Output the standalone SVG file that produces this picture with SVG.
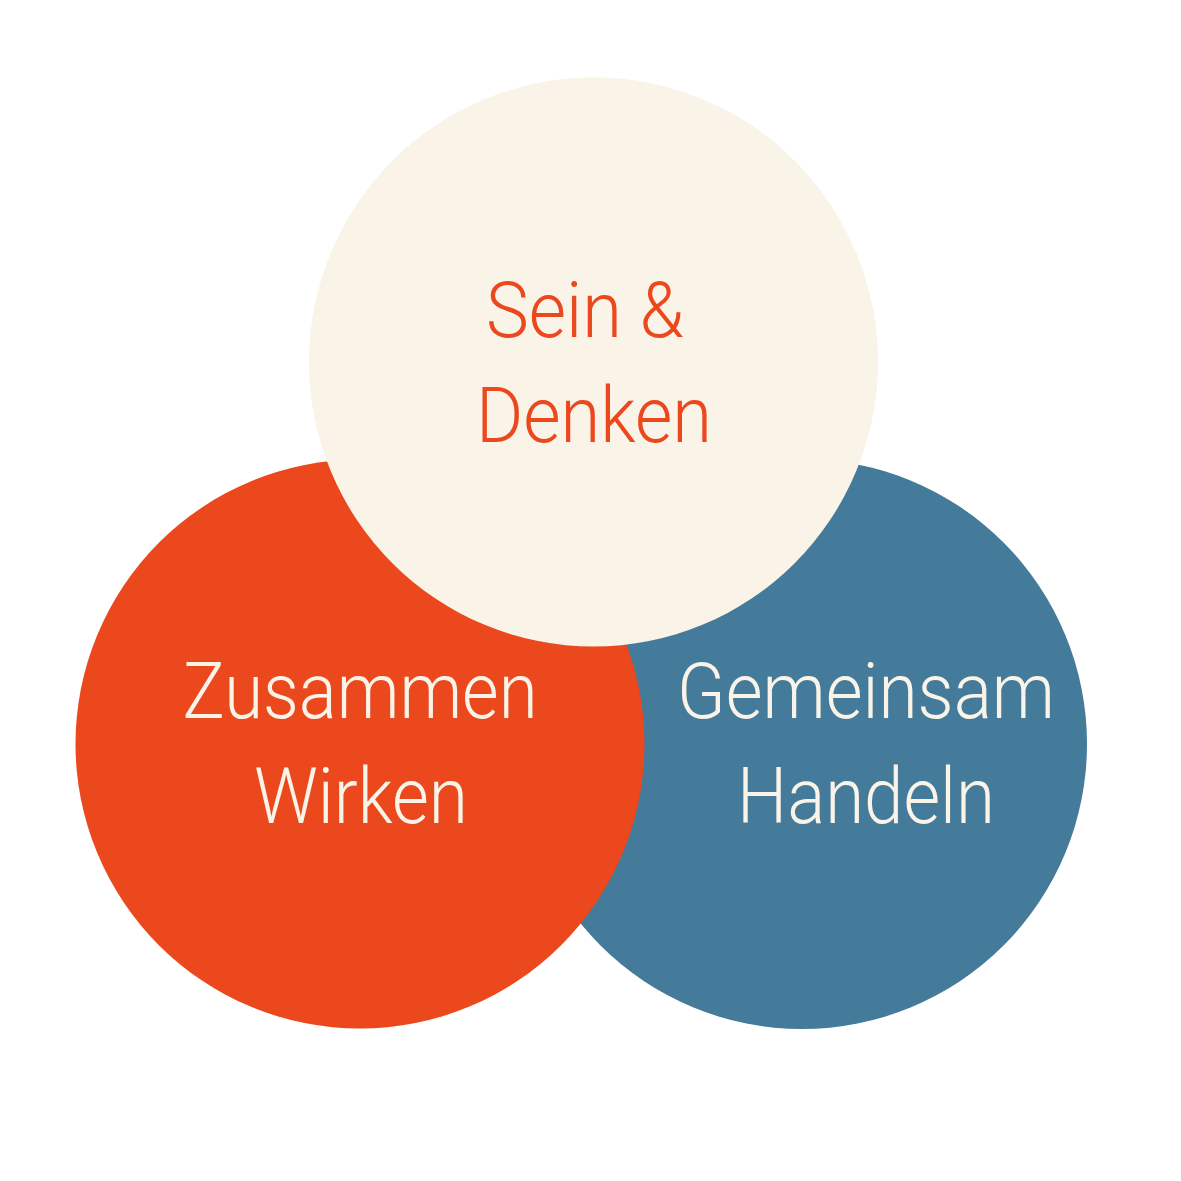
<svg xmlns="http://www.w3.org/2000/svg" width="1181" height="1181" viewBox="0 0 1181 1181">
<style>
.lbl{font-family:Roboto,"Liberation Sans",sans-serif;font-weight:300;font-size:78px;text-anchor:middle}
.light{fill:#F9F3E8}
.red{fill:#EB481E}
</style>
<rect width="1181" height="1181" fill="#FFFFFF"/>
<g id="node-gemeinsam">
<circle cx="802" cy="744" r="285" fill="#447A9A"/>
<text class="lbl light" x="866" y="718" textLength="378" lengthAdjust="spacingAndGlyphs">Gemeinsam</text>
<text class="lbl light" x="866" y="823" textLength="258" lengthAdjust="spacingAndGlyphs">Handeln</text>
</g>
<g id="node-zusammen">
<circle cx="360" cy="744" r="284.5" fill="#EB481E"/>
<text class="lbl light" x="360" y="718" textLength="355" lengthAdjust="spacingAndGlyphs">Zusammen</text>
<text class="lbl light" x="361" y="823" textLength="214" lengthAdjust="spacingAndGlyphs">Wirken</text>
</g>
<g id="node-sein">
<circle cx="593.5" cy="362" r="284.5" fill="#F9F3E8"/>
<text class="lbl red" x="585" y="337" textLength="198" lengthAdjust="spacingAndGlyphs">Sein &amp;</text>
<text class="lbl red" x="594" y="442" textLength="236" lengthAdjust="spacingAndGlyphs">Denken</text>
</g>
<g id="connectors"/>
</svg>
